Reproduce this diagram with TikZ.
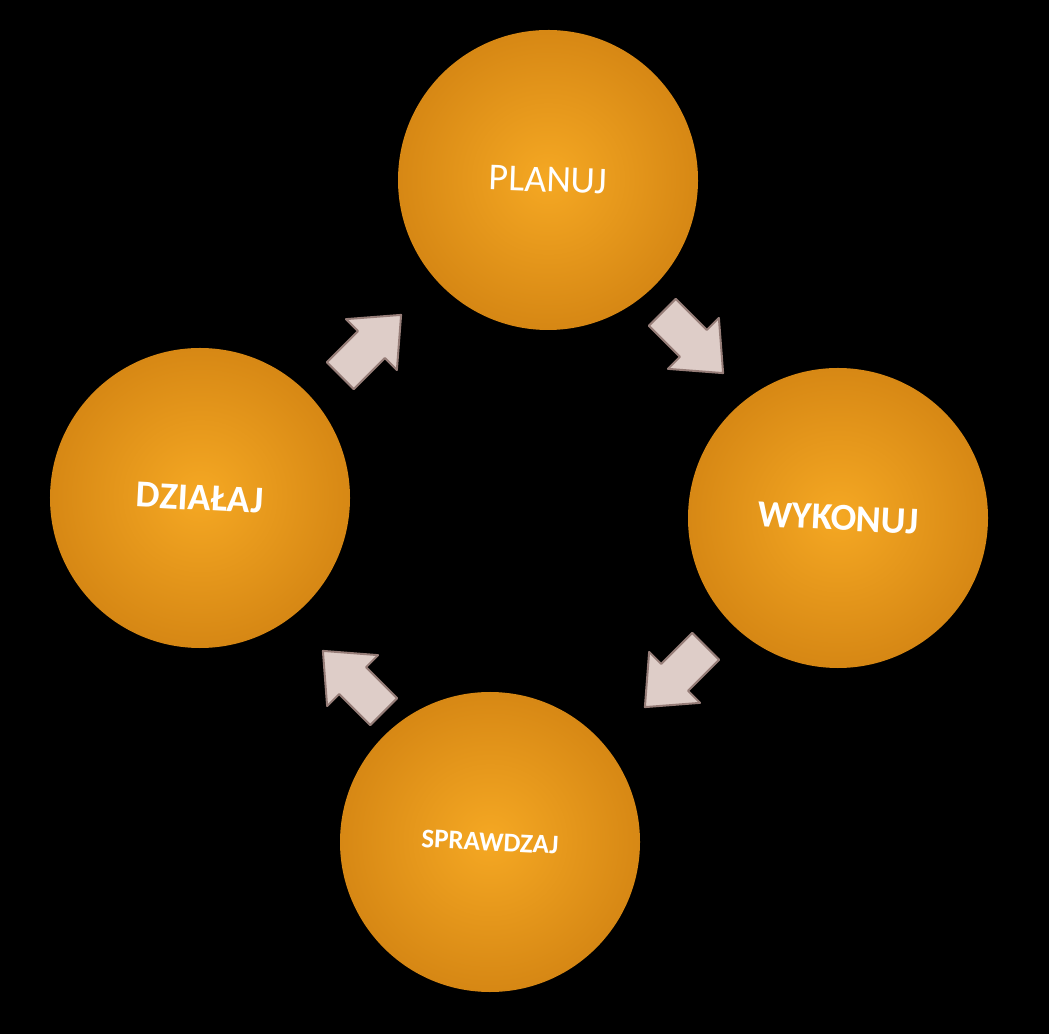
\documentclass[tikz,border=0pt]{standalone}
\usepackage{fontspec}
\setmainfont{Carlito}
\begin{document}
\begin{tikzpicture}[x=1pt,y=1pt,
  ball/.style={circle,minimum size=300pt,inner sep=0pt,draw=none,
    inner color={rgb,255:red,245;green,168;blue,35},
    outer color={rgb,255:red,214;green,135;blue,20},
    text=white},
  blk/.style={fill={rgb,255:red,222;green,205;blue,200},
    draw={rgb,255:red,150;green,125;blue,120},line width=2pt,line join=round}]
\fill[black] (0,0) rectangle (1049,1034);
\useasboundingbox (0,0) rectangle (1049,1034);
\node[ball,rotate=-2] (p) at (548,854) {\fontsize{38}{44}\selectfont PLANUJ};
\node[ball,rotate=-3] (w) at (838,516) {\fontsize{38}{44}\selectfont\bfseries WYKONUJ};
\node[ball,rotate=-3] (s) at (490,192) {\fontsize{27}{32}\selectfont\bfseries SPRAWDZAJ};
\node[ball,rotate=-3] (d) at (200,536) {\fontsize{38}{44}\selectfont\bfseries DZIAŁAJ};
\coordinate (a1) at (370,688);
\coordinate (a2) at (692,692);
\coordinate (a3) at (676,358);
\coordinate (a4) at (354,352);
\foreach \c/\r in {a1/45,a2/-45,a3/-135,a4/135}{
  \filldraw[blk,shift={(\c)},rotate=\r]
    (-42,-19) -- (2,-19) -- (2,-36) -- (44,0) -- (2,36) -- (2,19) -- (-42,19) -- cycle;
}
\end{tikzpicture}
\end{document}
